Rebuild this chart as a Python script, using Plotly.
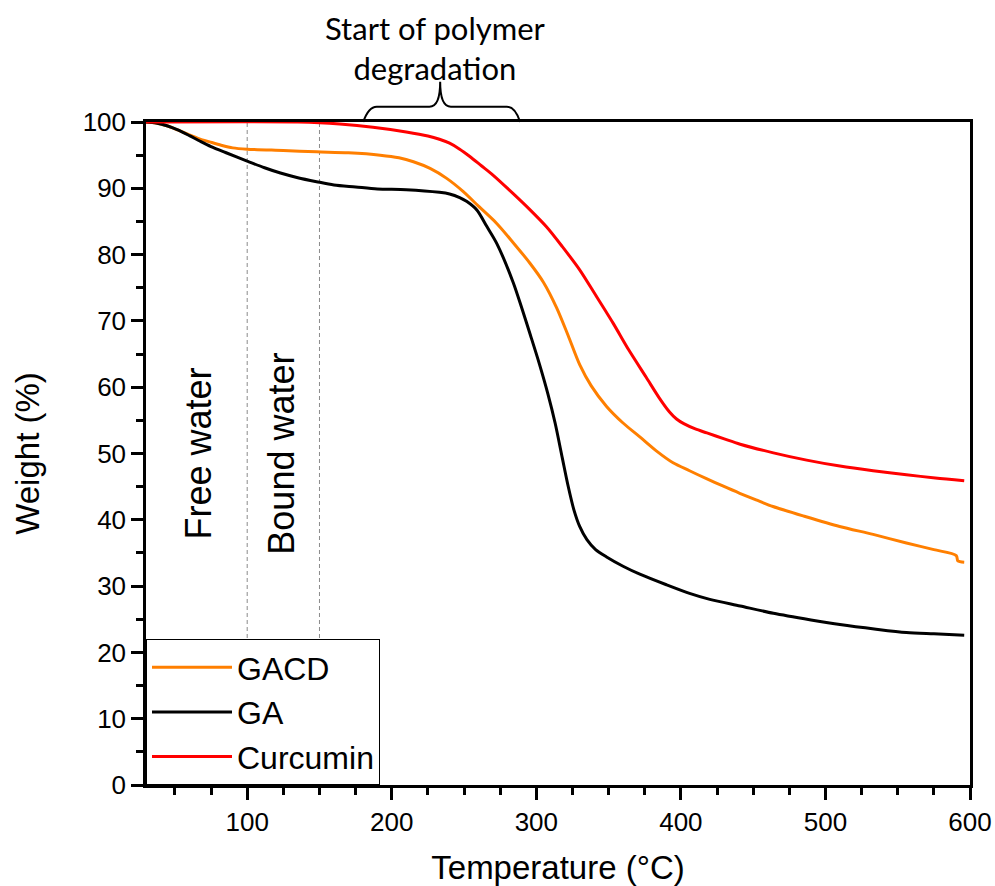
import plotly.graph_objects as go

# ---- data ----
ga_T = [30, 37, 45, 52, 60, 67.5, 75, 85, 100, 112, 123, 135, 148, 160, 175, 190, 210, 233, 240,
        247, 252, 259, 265.6, 272.6, 284, 290, 296, 302, 308, 313, 318, 322, 326, 330, 335, 341,
        348.6, 360, 371.6, 390, 406, 420, 441, 464, 490, 510, 535, 556, 575, 596]
ga_W = [100, 99.85, 99.4, 98.8, 97.95, 97.1, 96.3, 95.4, 94.1, 93.1, 92.3, 91.6, 91.0, 90.5, 90.2,
        89.9, 89.8, 89.4, 89.15, 88.6, 88.0, 86.7, 84.3, 81.7, 75.8, 71.9, 67.8, 63.6, 59.0, 54.6,
        49.3, 45.1, 41.5, 39.0, 37.0, 35.5, 34.4, 33.0, 31.8, 30.2, 28.9, 28.0, 27.0, 25.9, 24.9,
        24.2, 23.5, 23.0, 22.8, 22.6]

gacd_T = [30, 37, 45, 52, 60, 67, 74, 82, 90, 100, 125, 148, 170, 192, 205, 215, 226.5, 238, 249.5,
          260, 272.6, 284, 295.6, 305, 314, 322, 330, 338, 348.6, 360, 371.6, 383, 394.6, 406,
          417.7, 429, 440.7, 452, 463.7, 486, 509.8, 533, 556, 575, 590.5, 591.6, 596]
gacd_W = [100, 99.85, 99.4, 98.8, 98.05, 97.45, 97.0, 96.5, 96.1, 95.9, 95.7, 95.5, 95.35, 95.0, 94.6,
          94.0, 93.0, 91.5, 89.5, 87.3, 84.7, 81.8, 78.7, 75.8, 72.0, 67.8, 63.4, 60.2, 57.1, 54.6,
          52.5, 50.4, 48.6, 47.4, 46.2, 45.1, 44.0, 43.0, 42.0, 40.5, 39.0, 37.8, 36.5, 35.5, 34.6,
          33.8, 33.6]

cur_T = [30, 135, 150, 164, 187, 210, 225, 233, 240, 247, 254, 262, 270, 284, 295, 307, 318, 330,
         341, 353, 364, 376, 385, 392, 397, 402, 410, 418, 430, 441, 464, 487, 510, 533, 556, 576, 596]
cur_W = [100, 100, 99.9, 99.7, 99.2, 98.5, 97.9, 97.4, 96.8, 95.9, 94.8, 93.4, 92.0, 89.2, 86.9,
         84.2, 81.2, 77.7, 73.9, 69.7, 65.6, 61.5, 58.4, 56.3, 55.2, 54.5, 53.7, 53.1, 52.2, 51.4,
         50.1, 49.0, 48.1, 47.4, 46.8, 46.3, 45.9]

series_names = ["GACD", "GA", "Curcumin"]
series_colors = ["#FF7F00", "#000000", "#FF0000"]
x_ticks = [100, 200, 300, 400, 500, 600]
y_ticks = [0, 10, 20, 30, 40, 50, 60, 70, 80, 90, 100]
region_lines = [100, 150]

AX = "Arial, Liberation Sans, sans-serif"
CAL = "Lato, Open Sans, sans-serif"

fig = go.Figure()
for name, color, T, W in zip(series_names, series_colors, [gacd_T, ga_T, cur_T], [gacd_W, ga_W, cur_W]):
    fig.add_trace(go.Scatter(x=T, y=W, mode="lines", name=name,
                             line=dict(color=color, width=3, shape="spline", smoothing=0.8)))

for xv in region_lines:
    fig.add_shape(type="line", x0=xv, x1=xv, y0=0, y1=100, xref="x", yref="y",
                  line=dict(color="#8a8a8a", width=1, dash="4px,3px"), layer="below")

# curly brace above the plot
brace = ("M 0.2636,1.0 Q 0.2700,1.0231 0.2800,1.0231 L 0.3440,1.0231 "
         "Q 0.3570,1.0231 0.3570,1.0608 Q 0.3570,1.0231 0.3700,1.0231 "
         "L 0.4380,1.0231 Q 0.4480,1.0231 0.4541,1.0")
fig.add_shape(type="path", path=brace, xref="paper", yref="paper",
              line=dict(color="black", width=2))

fig.add_annotation(text="Start of polymer<br>degradation", xref="paper", yref="paper",
                   x=0.351, y=1.1116, xanchor="center", yanchor="middle", showarrow=False,
                   font=dict(family=CAL, size=31, color="black"))
fig.add_annotation(text="Free water", x=66, y=50, xref="x", yref="y", textangle=-90,
                   xanchor="center", yanchor="middle",
                   showarrow=False, font=dict(family=AX, size=36, color="black"))
fig.add_annotation(text="Bound water", x=123.5, y=50, xref="x", yref="y", textangle=-90,
                   xanchor="center", yanchor="middle",
                   showarrow=False, font=dict(family=AX, size=36, color="black"))

axis_common = dict(showline=True, linecolor="black", linewidth=2.5, mirror=True,
                   ticks="outside", ticklen=12, tickwidth=2.5, tickcolor="black",
                   showgrid=False, zeroline=False, automargin=False,
                   tickfont=dict(family=AX, size=26, color="black"))

fig.update_xaxes(range=[30, 600], tickvals=x_ticks,
                 minor=dict(dtick=25, tick0=0, ticks="outside", ticklen=7, tickwidth=2.5, tickcolor="black"),
                 title=dict(text="Temperature (°C)", font=dict(family=AX, size=33, color="black"), standoff=27),
                 **axis_common)
fig.update_yaxes(range=[0, 100], tickvals=y_ticks,
                 minor=dict(dtick=5, tick0=0, ticks="outside", ticklen=7, tickwidth=2.5, tickcolor="black"),
                 title=dict(text="Weight (%)", font=dict(family=AX, size=33, color="black"), standoff=34),
                 **axis_common)

fig.update_layout(
    width=995, height=886,
    margin=dict(l=146, r=25, t=122, b=101),
    plot_bgcolor="white", paper_bgcolor="white",
    legend=dict(x=0, y=0, xanchor="left", yanchor="bottom", bgcolor="white",
                bordercolor="black", borderwidth=1, itemwidth=80,
                font=dict(family=AX, size=32, color="black"), tracegroupgap=0),
    showlegend=True,
)

# remove the page's default body margin so the figure fills the window exactly
fig.write_html("out.html", config={"displayModeBar": False},
               post_script="document.body.style.margin='0';document.body.style.overflow='hidden';")
